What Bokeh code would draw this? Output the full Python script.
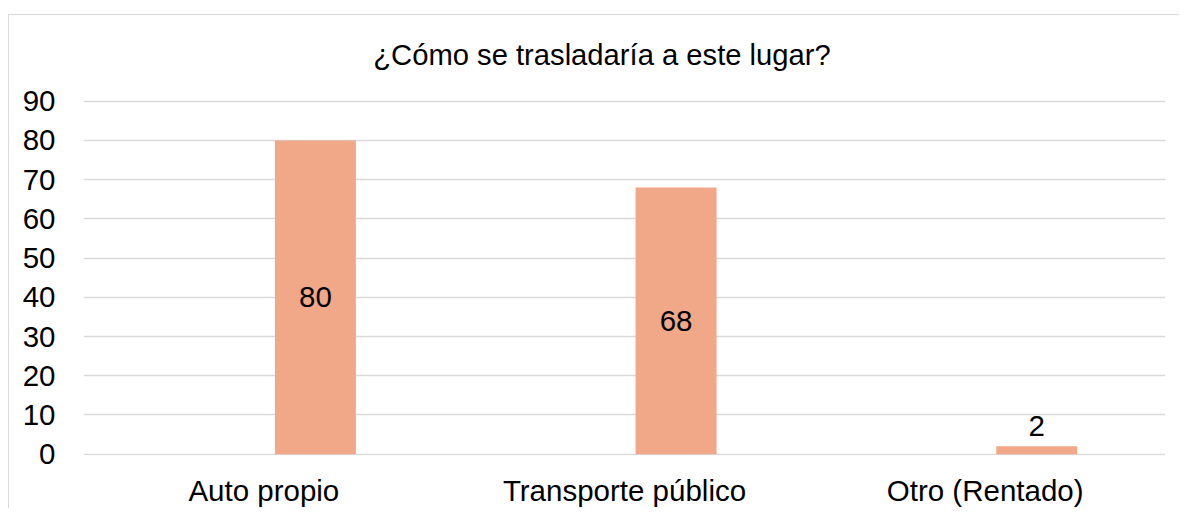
from bokeh.plotting import figure
from bokeh.models import Range1d, FixedTicker, ColumnDataSource
from bokeh.core.properties import value
from bokeh.transform import dodge
from bokeh.embed import file_html
from bokeh.resources import INLINE

categories = ["Auto propio", "Transporte público", "Otro (Rentado)"]
values = [80, 68, 2]
y_ticks = [0, 10, 20, 30, 40, 50, 60, 70, 80, 90]
title_text = "¿Cómo se trasladaría a este lugar?"

FONT = "Liberation Sans"
BAR_COLOR = "#F1A889"
GRID_COLOR = "#D9D9D9"
FS = "29.5px"

label_y = [v / 2 if v >= 10 else v for v in values]
label_off = [0 if v >= 10 else -20 for v in values]
src = ColumnDataSource(dict(cat=categories, val=values, ly=label_y,
                            loff=label_off, txt=[str(v) for v in values]))

# canvas starts at (9, 15) on the page because of margin + 1px border;
# the frame reaches the top of the canvas so the title can live inside it
p = figure(x_range=categories, y_range=Range1d(-0.331, 111.85),
           width=1171, height=494, output_backend="svg", toolbar_location=None,
           min_border_left=74, min_border_right=15, min_border_top=0,
           min_border_bottom=54)
p.styles = {"margin-left": "8px", "margin-top": "14px",
            "border-left": "1px solid #D9D9D9", "border-top": "1px solid #D9D9D9"}
p.outline_line_color = None
p.background_fill_color = "white"
p.border_fill_color = "white"

p.vbar(x=dodge("cat", 0.143, range=p.x_range), top="val", bottom=0, width=0.2245,
       source=src, fill_color=BAR_COLOR, line_color=None)

p.text(x=dodge("cat", 0.143, range=p.x_range), y="ly", text="txt",
       y_offset="loff", source=src, text_align="center", text_baseline="middle",
       text_font=value(FONT), text_font_size=FS, text_color="#000000")

# chart title (centred over the whole chart area, left of the plot centre)
title_src = ColumnDataSource(dict(cat=[categories[1]], y=[101.9], t=[title_text]))
p.text(x=dodge("cat", -0.0624, range=p.x_range), y="y", text="t", source=title_src,
       text_align="center", text_baseline="middle", text_font=value(FONT),
       text_font_size="29.2px", text_color="#000000")

p.xgrid.grid_line_color = None
p.ygrid.grid_line_color = GRID_COLOR
p.ygrid.grid_line_width = 1.3

p.yaxis.ticker = FixedTicker(ticks=y_ticks)
for ax in (p.xaxis[0], p.yaxis[0]):
    ax.axis_line_color = None
    ax.major_tick_line_color = None
    ax.minor_tick_line_color = None
    ax.major_label_text_font = FONT
    ax.major_label_text_font_size = FS
    ax.major_label_text_color = "#000000"
p.yaxis.major_label_standoff = 22
p.xaxis.major_label_standoff = 12

open("out.html", "w").write(file_html(p, INLINE))
